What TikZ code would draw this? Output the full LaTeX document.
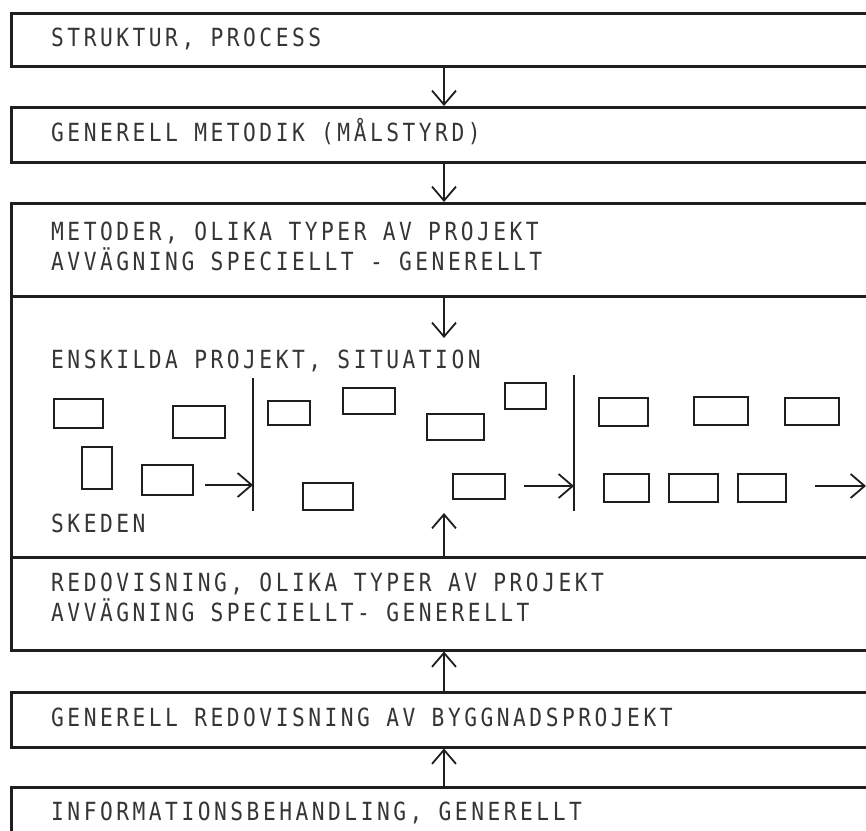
\documentclass[tikz,border=0pt]{standalone}
\usepackage{fontspec}
\usetikzlibrary{arrows.meta}
\newfontfamily\plotfont{DejaVu Sans Mono}[FakeStretch=0.85, LetterSpace=14]
\definecolor{ink}{HTML}{1E1E1E}

\tikzset{
  layer/.style={draw=ink, line width=2.5pt, rectangle, inner sep=0pt,
                anchor=north west, minimum width=880pt},
  boxtext/.style={anchor=base west, inner sep=0pt, text=ink!90,
                  font=\plotfont\fontsize{25}{30}\selectfont},
  card/.style={draw=ink, line width=1.9pt, rectangle, inner sep=0pt,
               anchor=north west},
  flow/.style={draw=ink, line width=1.8pt,
               -{Straight Barb[length=14pt,width=24pt]}},
  divider/.style={draw=ink, line width=1.8pt}
}

% a small project card given by its corners: name, x1, y1, x2, y2
\newcommand{\cardat}[5]{%
  \node[card, minimum width={(#4)-(#2)}, minimum height={(#5)-(#3)}] (#1) at (#2,#3) {};}

\begin{document}
\begin{tikzpicture}[x=1pt, y=-1pt]
  \useasboundingbox (0,0) rectangle (866,830);
  \fill[white] (0,0) rectangle (866,830);
  \clip (0,0) rectangle (866,830);

  % the stacked layers
  \node[layer, minimum height=53pt]  (b1) at (10,12)  {};
  \node[layer, minimum height=55pt]  (b2) at (10,106) {};
  \node[layer, minimum height=93pt]  (b3) at (10,202) {};
  \node[layer, minimum height=261pt] (b4) at (10,295) {};
  \node[layer, minimum height=93pt]  (b5) at (10,556) {};
  \node[layer, minimum height=55pt]  (b6) at (10,691) {};
  \node[layer, minimum height=94pt]  (b7) at (10,786) {};

  % layer texts
  \node[boxtext] (t1)  at (51,46)  {STRUKTUR, PROCESS};
  \node[boxtext] (t2)  at (51,141) {GENERELL METODIK (MÅLSTYRD)};
  \node[boxtext] (t3a) at (51,240) {METODER, OLIKA TYPER AV PROJEKT};
  \node[boxtext] (t3b) at (51,270) {AVVÄGNING SPECIELLT - GENERELLT};
  \node[boxtext] (t4a) at (51,368) {ENSKILDA PROJEKT, SITUATION};
  \node[boxtext] (t4b) at (51,532) {SKEDEN};
  \node[boxtext] (t5a) at (51,591) {REDOVISNING, OLIKA TYPER AV PROJEKT};
  \node[boxtext] (t5b) at (51,621) {AVVÄGNING SPECIELLT- GENERELLT};
  \node[boxtext] (t6)  at (51,726) {GENERELL REDOVISNING AV BYGGNADSPROJEKT};
  \node[boxtext] (t7)  at (51,820) {INFORMATIONSBEHANDLING, GENERELLT};

  % vertical flow between the layers
  \coordinate (ax) at (444,0);
  \coordinate (down) at (444,338);
  \coordinate (up) at (444,513);
  \draw[flow] (b1.south -| ax) -- (b2.north -| ax);
  \draw[flow] (b2.south -| ax) -- (b3.north -| ax);
  \draw[flow] (b4.north -| ax) -- (down);
  \draw[flow] (b5.north -| ax) -- (up);
  \draw[flow] (b6.north -| ax) -- (b5.south -| ax);
  \draw[flow] (b7.north -| ax) -- (b6.south -| ax);

  % stage dividers
  \coordinate (d1t) at (253,378);
  \coordinate (d1b) at (253,511);
  \coordinate (d2t) at (574,375);
  \coordinate (d2b) at (574,511);
  \draw[divider] (d1t) -- (d1b);
  \draw[divider] (d2t) -- (d2b);

  % first stage
  \cardat{rA}{53}{398}{102}{427}
  \cardat{rB}{172}{405}{224}{437}
  \cardat{rC}{81}{446}{111}{488}
  \cardat{rD}{141}{464}{192}{494}
  % second stage
  \cardat{rE}{267}{400}{309}{424}
  \cardat{rF}{342}{387}{394}{413}
  \cardat{rG}{426}{413}{483}{439}
  \cardat{rH}{302}{482}{352}{509}
  \cardat{rI}{504}{382}{545}{408}
  \cardat{rJ}{452}{473}{504}{498}
  % third stage
  \cardat{rK}{598}{397}{647}{425}
  \cardat{rL}{693}{396}{747}{424}
  \cardat{rM}{784}{397}{838}{424}
  \cardat{rN}{603}{473}{648}{501}
  \cardat{rO}{668}{473}{717}{501}
  \cardat{rP}{737}{473}{785}{501}

  % progression between stages
  \coordinate (h1) at (205,485);
  \coordinate (h2) at (524,486);
  \coordinate (h3) at (815,486);
  \coordinate (h3e) at (866,486);
  \draw[flow] (h1) -- (h1 -| d1t);
  \draw[flow] (h2) -- (h2 -| d2t);
  \draw[flow] (h3) -- (h3e);
\end{tikzpicture}
\end{document}
